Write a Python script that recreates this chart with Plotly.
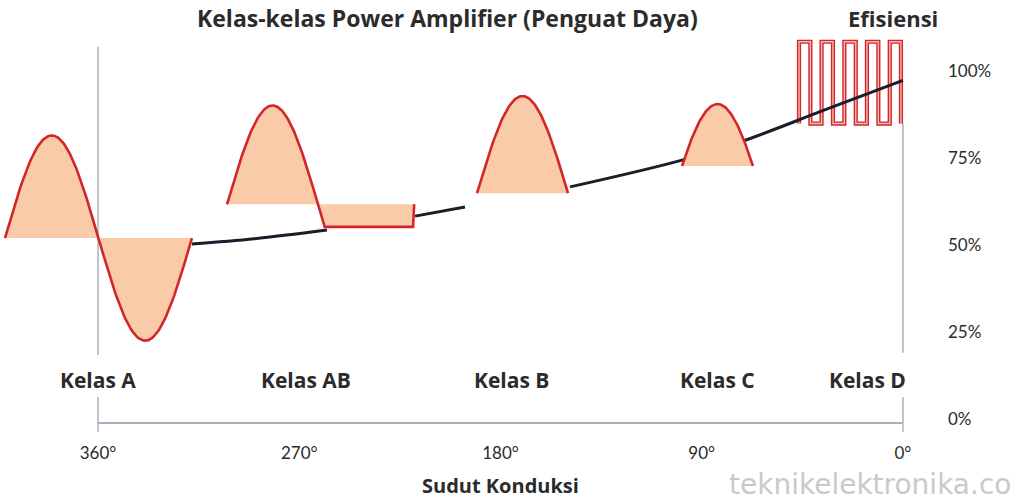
import numpy as np
import plotly.graph_objects as go

# ---------------- data ----------------
deg_ticks = [360, 270, 180, 90, 0]
deg_labels = ["360°", "270°", "180°", "90°", "0°"]
eff_ticks = [0, 25, 50, 75, 100]
eff_labels = ["0%", "25%", "50%", "75%", "100%"]

class_names = ["Kelas A", "Kelas AB", "Kelas B", "Kelas C", "Kelas D"]
class_label_deg = [360, 267, 175, 83, 16]

# efficiency curve (conduction angle in degrees, efficiency in %), visible segments
eff1_deg = [318.0, 290.0, 257.6]
eff1_pct = [50.3, 51.8, 54.3]
eff2_deg = [218.2, 195.9]
eff2_pct = [58.3, 60.9]
eff3_deg = [148.9, 98.8, 71.5, 35.0, 0.0]
eff3_pct = [66.7, 74.4, 79.9, 88.8, 97.3]

# Class A: full sine wave
a_deg = [401.6, 318.0]
a_base, a_amp = 52.0, 29.5
# Class AB: half sine plus small negative part
ab_deg = [302.3, 261.6]          # start, baseline crossing
ab_base, ab_amp = 61.7, 28.4
ab_low = 55.2
ab_rect_deg = [219.1, 218.6]
# Class B: half sine
b_deg = [190.5, 149.8]
b_base, b_amp = 64.9, 27.9
# Class C: top of sine
c_deg = [98.8, 67.1]
c_base, c_height, c_clip = 72.7, 17.8, 25.0
# Class D: switching square wave
d_edges = [46.5, 46.5, 41.4, 36.4, 31.3, 26.2, 21.1, 16.1, 11.0, 5.9, 0.9]
d_low, d_high = 84.9, 108.4

RED = "#D2262B"
PEACH = "#FACBA8"
GRAY = "#A9B2BC"
CURVE = "#1C1C2A"
TXT = "#2B2B2B"
BOLD = "Open Sans"

fig = go.Figure()

def add_fill(xs, ys):
    fig.add_trace(go.Scatter(x=xs, y=ys, mode="lines", fill="toself",
                             fillcolor=PEACH, line=dict(width=0),
                             hoverinfo="skip", showlegend=False))

def add_outline(xs, ys, width=2.6, color=RED, shape="linear"):
    fig.add_trace(go.Scatter(x=xs, y=ys, mode="lines",
                             line=dict(color=color, width=width, shape=shape),
                             hoverinfo="skip", showlegend=False))

# Class D square wave (under the efficiency curve)
d_levels = [d_low] + [d_high if i % 2 == 0 else d_low for i in range(len(d_edges) - 1)]
add_outline(d_edges, d_levels, width=4.2, color=RED, shape="hv")
add_outline(d_edges, d_levels, width=1.4, color="#F7B9B4", shape="hv")

# efficiency curve
for xs, ys in [(eff1_deg, eff1_pct), (eff2_deg, eff2_pct), (eff3_deg, eff3_pct)]:
    fig.add_trace(go.Scatter(x=xs, y=ys, mode="lines",
                             line=dict(color=CURVE, width=3, shape="spline"),
                             hoverinfo="skip", showlegend=False))

# Class A
t = np.linspace(0, 2 * np.pi, 161)
ax = a_deg[0] + (a_deg[1] - a_deg[0]) * t / (2 * np.pi)
ay = a_base + a_amp * np.sin(t)
add_fill(list(ax), list(ay))
add_outline(list(ax), list(ay))

# Class AB
half = ab_deg[0] - ab_deg[1]
t_end = np.pi + np.arcsin((ab_base - ab_low) / ab_amp)
t = np.linspace(0, t_end, 121)
abx = ab_deg[0] - half * t / np.pi
aby = ab_base + ab_amp * np.sin(t)
fx = list(abx) + [ab_rect_deg[0], ab_rect_deg[1], ab_deg[0]]
fy = list(aby) + [ab_low, ab_base, ab_base]
add_fill(fx, fy)
ox = list(abx) + [ab_rect_deg[0], ab_rect_deg[1]]
oy = list(aby) + [ab_low, ab_base]
add_outline(ox, oy)

# Class B
t = np.linspace(0, np.pi, 101)
bx = b_deg[0] + (b_deg[1] - b_deg[0]) * t / np.pi
by = b_base + b_amp * np.sin(t)
add_fill(list(bx), list(by))
add_outline(list(bx), list(by))

# Class C
t0 = np.radians(c_clip)
t = np.linspace(t0, np.pi - t0, 101)
amp = c_height / (1 - np.sin(t0))
cx = c_deg[0] + (c_deg[1] - c_deg[0]) * (t - t0) / (np.pi - 2 * t0)
cy = c_base + amp * (np.sin(t) - np.sin(t0))
add_fill(list(cx), list(cy))
add_outline(list(cx), list(cy))

# ---------------- guide lines ----------------
shapes = [
    dict(type="line", xref="x", yref="y", x0=360, x1=360, y0=107.0, y1=18.4,
         line=dict(color=GRAY, width=1.5), layer="below"),
    dict(type="line", xref="x", yref="y", x0=0, x1=0, y0=85.0, y1=19.0,
         line=dict(color=GRAY, width=1.5), layer="below"),
    dict(type="line", xref="x", yref="y", x0=360, x1=360, y0=6.3, y1=-3.7,
         line=dict(color=GRAY, width=1.5)),
    dict(type="line", xref="x", yref="y", x0=0, x1=0, y0=6.3, y1=-3.7,
         line=dict(color=GRAY, width=1.5)),
    dict(type="line", xref="x", yref="y", x0=360, x1=0, y0=-1.15, y1=-1.15,
         line=dict(color=GRAY, width=1.8)),
]

annotations = [
    dict(x=203.5, y=115.2, xref="x", yref="y", showarrow=False,
         text="<b>Kelas-kelas Power Amplifier (Penguat Daya)</b>",
         font=dict(family=BOLD, size=23, color=TXT)),
    dict(x=4.5, y=115.2, xref="x", yref="y", showarrow=False,
         text="<b>Efisiensi</b>", font=dict(family=BOLD, size=22, color=TXT)),
    dict(x=180, y=-19.2, xref="x", yref="y", showarrow=False,
         text="<b>Sudut Konduksi</b>", font=dict(family=BOLD, size=20, color=TXT)),
    dict(x=78.7, y=-18.8, xref="x", yref="y", showarrow=False, xanchor="left",
         text="teknikelektronika.com", font=dict(family="DejaVu Sans", size=28, color="#C9C9C9")),
]
for name, d in zip(class_names, class_label_deg):
    annotations.append(dict(x=d, y=11.2, xref="x", yref="y", showarrow=False,
                            text="<b>" + name + "</b>",
                            font=dict(family=BOLD, size=21, color=TXT)))

fig.update_layout(
    width=1014, height=499,
    margin=dict(l=0, r=71, t=0, b=0),
    paper_bgcolor="white", plot_bgcolor="white",
    showlegend=False,
    shapes=shapes, annotations=annotations,
    xaxis=dict(range=[403.83, -17.91], tickvals=deg_ticks, ticktext=deg_labels,
               anchor="free", position=0.1523, showgrid=False, zeroline=False,
               showline=False, ticks="", ticklabelstandoff=18,
               tickfont=dict(family="Lato", size=17, color=TXT)),
    yaxis=dict(range=[-22.99, 120.40], tickvals=eff_ticks, ticktext=eff_labels,
               side="right", showgrid=False, zeroline=False, showline=False,
               ticks="", ticklabelstandoff=4,
               tickfont=dict(family="Lato", size=17, color=TXT)),
)

fig.write_html("out.html")
